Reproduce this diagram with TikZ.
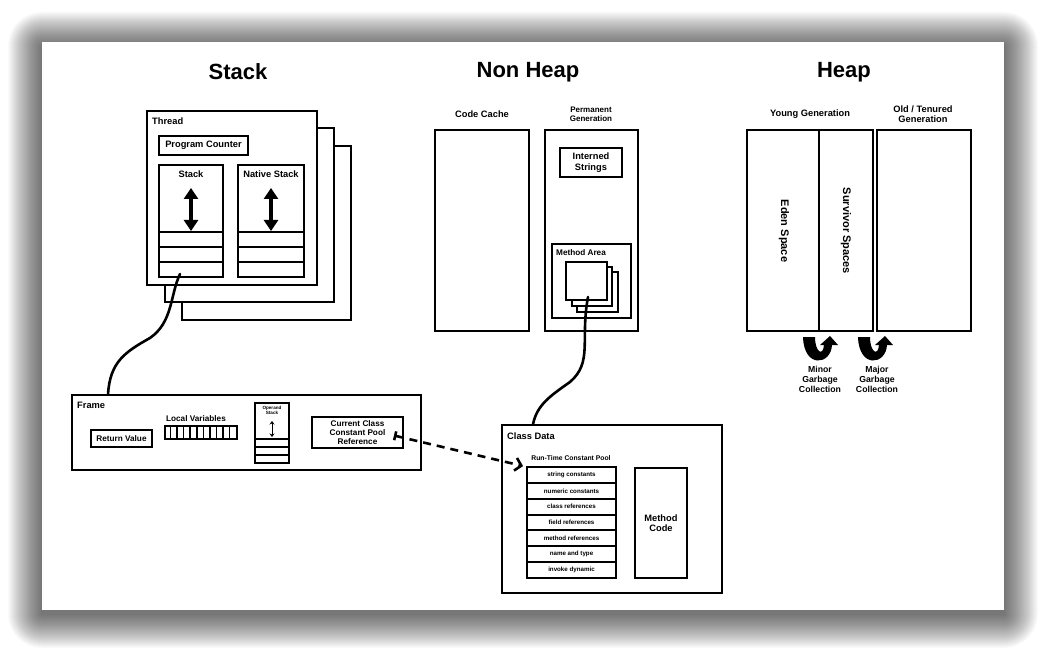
\documentclass[tikz,border=0pt]{standalone}
\usepackage{fontspec}
\setmainfont{Liberation Sans}
\usetikzlibrary{arrows.meta,fit,calc}

\begin{document}
\begin{tikzpicture}[x=1pt,y=-1pt,
  box/.style={draw, line width=1.9pt, fill=white, inner sep=0pt},
  title/.style={font=\fontsize{22}{26}\selectfont\bfseries, inner sep=0pt},
  lbl/.style={font=\fontsize{9.3}{10.5}\selectfont\bfseries, align=center, inner sep=0pt},
  small/.style={font=\fontsize{8.2}{8.8}\selectfont\bfseries, align=center, inner sep=0pt},
  rowtxt/.style={font=\fontsize{6.2}{7}\selectfont\bfseries, align=center, inner sep=0pt},
  rule/.style={line width=1.9pt},
  wire/.style={line width=2.6pt, line cap=round},
  updown/.style={line width=3.4pt, {Triangle[length=11pt,width=14pt]}-{Triangle[length=11pt,width=14pt]}},
  gcarrow/.pic={\fill[black] (0,0) -- (12,0) .. controls (12,15) and (20,20) .. (21,8)
      -- (17,8) -- (27,-1) -- (35,8) -- (29,8) .. controls (28,28) and (1,32) .. (0,0) -- cycle;},
]
% page and card with a soft shadow built from stacked translucent layers
\fill[white] (0,0) rectangle (1048,652);
\useasboundingbox (0,0) rectangle (1048,652);
\foreach \i in {1,...,34}
  \fill[black, opacity=0.02, rounded corners=\i pt] (42-\i,46-\i) rectangle (1004+\i,614+\i);
\fill[white] (42,42) rectangle (1004,610);

% section titles
\node[title] (tstack) at (238,72) {Stack};
\node[title] (tnonheap) at (528,72) {Non Heap};
\node[title] (theap) at (844,72) {Heap};

% ---------- threads ----------
\node[box, fit={(182,146) (351,320)}] (thread3) {};
\node[box, fit={(165,128) (334,302)}] (thread2) {};
\node[box, fit={(147,111) (317,285)}] (thread) {};
\node[lbl, anchor=west] (threadlbl) at (152,121) {Thread};
\node[box, fit={(159,136) (248,155)}] (pc) {};
\node[lbl] (pclbl) at (pc.center) {Program Counter};

\node[box, fit={(159,165) (223,277)}] (jstack) {};
\node[lbl] (jstacklbl) at (191,174) {Stack};
\node[box, fit={(238,165) (304,277)}] (nstack) {};
\node[lbl] (nstacklbl) at (271,174) {Native Stack};
\foreach \yy in {232,247,262} {
  \draw[rule] (jstack.west |- 0,\yy) -- (jstack.east |- 0,\yy);
  \draw[rule] (nstack.west |- 0,\yy) -- (nstack.east |- 0,\yy);
}
\draw[updown] (191,188) -- (191,231);
\draw[updown] (271,188) -- (271,231);

% ---------- frame ----------
\node[box, fit={(72,395) (421,470)}] (frame) {};
\node[lbl, anchor=west] (framelbl) at (77,405) {Frame};
\node[box, fit={(91,430) (152,447)}] (retval) {};
\node[small] (retvallbl) at (retval.center) {Return Value};
\node[small] (localslbl) at (196,419) {Local Variables};
\node[box, fit={(165,426) (237,439)}] (locals) {};
\foreach \k in {1,...,10}
  \draw[line width=1.5pt] ($(locals.north west)+(\k*72/11,0)$) -- ($(locals.south west)+(\k*72/11,0)$);
\node[box, line width=1.5pt, fit={(255,403) (289,463)}] (opstack) {};
\node[font=\fontsize{4.6}{5}\selectfont\bfseries, align=center, inner sep=0pt] (oplbl) at (272,410) {Operand\\Stack};
\foreach \yy in {439,447,455}
  \draw[line width=1.5pt] (opstack.west |- 0,\yy) -- (opstack.east |- 0,\yy);
\draw[line width=1pt, {Stealth[length=3.5pt,width=5pt]}-{Stealth[length=3.5pt,width=5pt]}] (272,421) -- (272,437);
\node[box, fit={(312,417) (403,448)}] (ccp) {};
\node[small] (ccplbl) at (ccp.center) {Current Class\\Constant Pool\\Reference};

% ---------- non heap ----------
\node[lbl] (cclbl) at (482,114) {Code Cache};
\node[box, fit={(435,130) (529,331)}] (codecache) {};
\node[font=\fontsize{8}{9}\selectfont\bfseries, align=center, inner sep=0pt] (permlbl) at (591,114) {Permanent\\Generation};
\node[box, fit={(545,130) (638,331)}] (perm) {};
\node[box, fit={(560,148) (622,177)}] (interned) {};
\node[lbl] (internedlbl) at (interned.center) {Interned\\Strings};
\node[box, fit={(552,244) (631,318)}] (methodarea) {};
\node[small, anchor=west] (malbl) at (556,253) {Method Area};
\node[box, line width=1.5pt, fit={(577,272) (618,312)}] (cls3) {};
\node[box, line width=1.5pt, fit={(572,267) (612,306)}] (cls2) {};
\node[box, line width=1.5pt, fit={(566,262) (607,300)}] (cls1) {};

% ---------- class data ----------
\node[box, fit={(502,425) (722,593)}] (classdata) {};
\node[lbl, anchor=west] (cdlbl) at (507,436) {Class Data};
\node[font=\fontsize{6.8}{8}\selectfont\bfseries, inner sep=0pt] (rtcplbl) at (571,458) {Run-Time Constant Pool};
\foreach \t [count=\i] in {string constants, numeric constants, class references,
    field references, method references, name and type, invoke dynamic} {
  \pgfmathsetmacro\ya{467+(\i-1)*15.857}
  \pgfmathsetmacro\yb{467+\i*15.857}
  \node[box, fit={(527,\ya) (616,\yb)}] (pool\i) {};
  \node[rowtxt] (poollbl\i) at (pool\i.center) {\t};
}
\node[box, fit={(635,468) (687,578)}] (methodcode) {};
\node[lbl] (methodcodelbl) at (methodcode.center) {Method\\Code};

% ---------- heap ----------
\node[lbl] (younglbl) at (810,114) {Young Generation};
\node[lbl] (oldlbl) at (923,114) {Old / Tenured\\Generation};
\node[box, fit={(747,130) (819,331)}] (eden) {};
\node[box, fit={(819,130) (873,331)}] (survivor) {};
\node[box, fit={(877,130) (971,331)}] (old) {};
\node[font=\fontsize{11}{13}\selectfont\bfseries, rotate=-90, inner sep=0pt] (edenlbl) at (784,231) {Eden Space};
\node[font=\fontsize{11}{13}\selectfont\bfseries, rotate=-90, inner sep=0pt] (survlbl) at (846,231) {Survivor Spaces};
\pic at (803,337) {gcarrow};
\pic at (858,337) {gcarrow};
\node[font=\fontsize{8.7}{10}\selectfont\bfseries, align=center, inner sep=0pt] (minorlbl) at (820,379) {Minor\\Garbage\\Collection};
\node[font=\fontsize{8.7}{10}\selectfont\bfseries, align=center, inner sep=0pt] (majorlbl) at (877,379) {Major\\Garbage\\Collection};

% ---------- connectors ----------
\coordinate (stackslot) at (180,274);
\coordinate (frametop) at ($(frame.north west)+(37,0)$);
\draw[wire] (stackslot) .. controls (170,295) and (173,322) .. (150,338)
  .. controls (125,352) and (110,362) .. (frametop);

\coordinate (classslot) at (588,297);
\coordinate (cdtop) at ($(classdata.north west)+(32,0)$);
\draw[wire] (classslot) .. controls (580,340) and (593,362) .. (570,382)
  .. controls (550,396) and (537,405) .. (cdtop);

\coordinate (ccpref) at ($(ccp.east)+(-10,3)$);
\coordinate (rtcp) at ($(pool1.north west)+(-3,0)$);
\draw[line width=2.6pt, dash pattern=on 8pt off 6pt,
  {Bar[width=9pt,line width=2.6pt]}-{Straight Barb[length=6pt,width=13pt,line width=2.6pt]}]
  (ccpref) -- (rtcp);
\end{tikzpicture}
\end{document}
